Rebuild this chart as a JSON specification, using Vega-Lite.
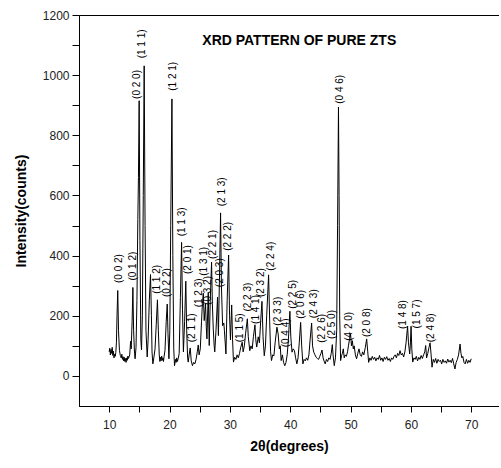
{
  "$schema": "https://vega.github.io/schema/vega-lite/v6.json",
  "width": 420,
  "height": 391,
  "autosize": {"type": "pad"},
  "padding": {"left": 14, "top": 9, "right": 0, "bottom": 5},
  "background": "white",
  "view": {"stroke": "black", "strokeWidth": 1},
  "config": {
    "font": "Liberation Sans",
    "axis": {"grid": false, "domain": true, "ticks": true, "domainColor": "black", "domainWidth": 1, "tickColor": "black", "tickWidth": 1, "labelColor": "#222", "titleColor": "black", "labelFont": "Liberation Sans", "titleFont": "Liberation Sans"}
  },
  "datasets": {
    "pattern": [
      {"t":10.0,"i":80},{"t":10.1,"i":92},{"t":10.2,"i":70},{"t":10.3,"i":88},{"t":10.4,"i":75},{"t":10.5,"i":95},{"t":10.6,"i":68},{"t":10.7,"i":82},{"t":10.8,"i":60},{"t":10.9,"i":72},{"t":11.0,"i":65},{"t":11.1,"i":78},{"t":11.2,"i":110},{"t":11.3,"i":200},{"t":11.42,"i":284},{"t":11.55,"i":150},{"t":11.7,"i":85},{"t":11.85,"i":68},
      {"t":12.0,"i":60},{"t":12.1,"i":72},{"t":12.2,"i":55},{"t":12.3,"i":64},{"t":12.4,"i":50},{"t":12.5,"i":62},{"t":12.6,"i":48},{"t":12.7,"i":58},{"t":12.8,"i":45},{"t":12.9,"i":60},{"t":13.0,"i":52},{"t":13.1,"i":66},{"t":13.2,"i":58},{"t":13.4,"i":70},{"t":13.55,"i":115},{"t":13.65,"i":90},{"t":13.8,"i":180},{"t":13.93,"i":294},{"t":14.05,"i":150},{"t":14.2,"i":75},{"t":14.3,"i":57},{"t":14.45,"i":95},{"t":14.6,"i":250},{"t":14.75,"i":520},{"t":14.85,"i":660},{"t":14.97,"i":915},{"t":15.1,"i":450},{"t":15.25,"i":120},{"t":15.36,"i":87},{"t":15.5,"i":200},{"t":15.65,"i":600},{"t":15.8,"i":1031},{"t":15.95,"i":500},
      {"t":16.1,"i":150},{"t":16.3,"i":63},{"t":16.45,"i":120},{"t":16.65,"i":250},{"t":16.85,"i":337},{"t":17.0,"i":200},{"t":17.1,"i":80},{"t":17.24,"i":40},{"t":17.4,"i":60},{"t":17.6,"i":90},{"t":17.8,"i":170},{"t":18.0,"i":253},{"t":18.15,"i":150},{"t":18.3,"i":70},{"t":18.4,"i":48},{"t":18.5,"i":62},{"t":18.6,"i":50},{"t":18.7,"i":66},{"t":18.8,"i":52},{"t":18.9,"i":60},{"t":19.0,"i":48},{"t":19.1,"i":65},{"t":19.25,"i":85},{"t":19.45,"i":180},{"t":19.62,"i":239},{"t":19.75,"i":140},{"t":19.9,"i":57},
      {"t":20.05,"i":150},{"t":20.2,"i":500},{"t":20.4,"i":921},{"t":20.55,"i":400},{"t":20.7,"i":90},{"t":20.83,"i":34},{"t":21.0,"i":55},{"t":21.1,"i":45},{"t":21.2,"i":60},{"t":21.3,"i":48},{"t":21.45,"i":58},{"t":21.6,"i":75},{"t":21.8,"i":260},{"t":22.0,"i":444},{"t":22.15,"i":220},{"t":22.3,"i":80},{"t":22.5,"i":180},{"t":22.7,"i":315},{"t":22.85,"i":150},{"t":23.0,"i":60},{"t":23.1,"i":46},{"t":23.25,"i":70},{"t":23.43,"i":93},{"t":23.6,"i":50},{"t":23.8,"i":34},
      {"t":24.0,"i":45},{"t":24.2,"i":40},{"t":24.4,"i":55},{"t":24.6,"i":80},{"t":24.76,"i":103},{"t":24.9,"i":70},{"t":25.1,"i":90},{"t":25.3,"i":180},{"t":25.45,"i":240},{"t":25.6,"i":275},{"t":25.75,"i":184},{"t":25.97,"i":239},{"t":26.1,"i":160},{"t":26.2,"i":123},{"t":26.42,"i":278},{"t":26.58,"i":101},{"t":26.75,"i":250},{"t":26.97,"i":378},{"t":27.1,"i":240},{"t":27.25,"i":156},{"t":27.4,"i":100},{"t":27.5,"i":80},{"t":27.7,"i":150},{"t":27.96,"i":262},{"t":28.1,"i":134},{"t":28.3,"i":350},{"t":28.46,"i":542},{"t":28.6,"i":300},{"t":28.8,"i":167},{"t":29.0,"i":176},{"t":29.1,"i":150},{"t":29.35,"i":73},{"t":29.55,"i":250},{"t":29.79,"i":402},{"t":29.95,"i":200},
      {"t":30.1,"i":120},{"t":30.3,"i":236},{"t":30.45,"i":120},{"t":30.6,"i":46},{"t":30.8,"i":62},{"t":31.0,"i":55},{"t":31.2,"i":70},{"t":31.4,"i":60},{"t":31.6,"i":75},{"t":31.8,"i":95},{"t":32.05,"i":112},{"t":32.2,"i":80},{"t":32.4,"i":100},{"t":32.6,"i":140},{"t":32.9,"i":190},{"t":33.05,"i":130},{"t":33.3,"i":84},{"t":33.5,"i":100},{"t":33.7,"i":90},{"t":33.9,"i":130},{"t":34.16,"i":170},{"t":34.3,"i":120},{"t":34.45,"i":96},{"t":34.7,"i":130},{"t":34.9,"i":110},{"t":35.1,"i":180},{"t":35.32,"i":248},{"t":35.5,"i":130},{"t":35.7,"i":67},{"t":35.9,"i":100},{"t":36.1,"i":200},{"t":36.42,"i":336},{"t":36.6,"i":180},{"t":36.75,"i":80},{"t":36.9,"i":51},{"t":37.1,"i":70},{"t":37.3,"i":67},{"t":37.5,"i":110},{"t":37.8,"i":162},{"t":38.0,"i":140},{"t":38.2,"i":90},{"t":38.35,"i":100},{"t":38.5,"i":51},{"t":38.7,"i":70},{"t":38.9,"i":45},{"t":39.1,"i":34},{"t":39.3,"i":45},{"t":39.5,"i":70},{"t":39.7,"i":120},{"t":39.95,"i":215},
      {"t":40.1,"i":130},{"t":40.3,"i":79},{"t":40.5,"i":90},{"t":40.7,"i":84},{"t":40.9,"i":60},{"t":41.1,"i":40},{"t":41.3,"i":60},{"t":41.5,"i":110},{"t":41.73,"i":178},{"t":41.9,"i":100},{"t":42.1,"i":40},{"t":42.3,"i":55},{"t":42.5,"i":50},{"t":42.7,"i":60},{"t":42.9,"i":52},{"t":43.1,"i":70},{"t":43.3,"i":120},{"t":43.55,"i":176},{"t":43.7,"i":100},{"t":43.9,"i":79},{"t":44.1,"i":70},{"t":44.3,"i":62},{"t":44.5,"i":58},{"t":44.7,"i":55},{"t":44.9,"i":65},{"t":45.1,"i":75},{"t":45.27,"i":86},{"t":45.45,"i":60},{"t":45.6,"i":50},{"t":45.8,"i":40},{"t":46.0,"i":55},{"t":46.2,"i":48},{"t":46.4,"i":60},{"t":46.6,"i":55},{"t":46.8,"i":75},{"t":46.98,"i":104},{"t":47.1,"i":70},{"t":47.3,"i":34},{"t":47.5,"i":60},{"t":47.7,"i":150},{"t":47.85,"i":500},{"t":48.0,"i":894},{"t":48.1,"i":600},{"t":48.2,"i":200},{"t":48.35,"i":51},{"t":48.5,"i":67},{"t":48.65,"i":75},{"t":48.8,"i":90},{"t":48.95,"i":60},{"t":49.1,"i":70},{"t":49.3,"i":65},{"t":49.5,"i":80},{"t":49.65,"i":100},{"t":49.85,"i":125},
      {"t":50.0,"i":140},{"t":50.15,"i":100},{"t":50.3,"i":117},{"t":50.45,"i":90},{"t":50.6,"i":100},{"t":50.8,"i":70},{"t":51.0,"i":57},{"t":51.2,"i":75},{"t":51.4,"i":90},{"t":51.6,"i":70},{"t":51.8,"i":65},{"t":52.0,"i":80},{"t":52.2,"i":70},{"t":52.45,"i":95},{"t":52.67,"i":123},{"t":52.85,"i":80},{"t":53.0,"i":45},{"t":53.2,"i":60},{"t":53.4,"i":52},{"t":53.6,"i":65},{"t":53.8,"i":55},{"t":54.0,"i":62},{"t":54.2,"i":50},{"t":54.4,"i":60},{"t":54.6,"i":55},{"t":54.8,"i":68},{"t":55.0,"i":52},{"t":55.2,"i":60},{"t":55.4,"i":48},{"t":55.6,"i":62},{"t":55.8,"i":55},{"t":56.0,"i":64},{"t":56.2,"i":52},{"t":56.4,"i":58},{"t":56.6,"i":48},{"t":56.8,"i":60},{"t":57.0,"i":55},{"t":57.2,"i":65},{"t":57.4,"i":70},{"t":57.6,"i":60},{"t":57.8,"i":75},{"t":58.0,"i":68},{"t":58.2,"i":84},{"t":58.4,"i":70},{"t":58.6,"i":75},{"t":58.8,"i":63},{"t":59.0,"i":80},{"t":59.2,"i":110},{"t":59.45,"i":165},{"t":59.6,"i":110},{"t":59.8,"i":73},{"t":59.9,"i":100},
      {"t":60.03,"i":165},{"t":60.15,"i":90},{"t":60.3,"i":46},{"t":60.5,"i":60},{"t":60.7,"i":55},{"t":60.9,"i":65},{"t":61.1,"i":50},{"t":61.3,"i":62},{"t":61.5,"i":55},{"t":61.7,"i":68},{"t":61.9,"i":58},{"t":62.1,"i":70},{"t":62.3,"i":80},{"t":62.45,"i":101},{"t":62.6,"i":60},{"t":62.8,"i":75},{"t":63.0,"i":95},{"t":63.18,"i":110},{"t":63.35,"i":70},{"t":63.5,"i":29},{"t":63.7,"i":55},{"t":63.9,"i":45},{"t":64.1,"i":58},{"t":64.3,"i":42},{"t":64.5,"i":55},{"t":64.7,"i":48},{"t":64.9,"i":52},{"t":65.1,"i":40},{"t":65.3,"i":55},{"t":65.5,"i":45},{"t":65.7,"i":50},{"t":65.9,"i":42},{"t":66.1,"i":56},{"t":66.3,"i":46},{"t":66.5,"i":52},{"t":66.7,"i":44},{"t":66.9,"i":58},{"t":67.1,"i":40},{"t":67.3,"i":23},{"t":67.5,"i":45},{"t":67.7,"i":55},{"t":67.9,"i":70},{"t":68.15,"i":106},{"t":68.3,"i":75},{"t":68.45,"i":60},{"t":68.6,"i":65},{"t":68.8,"i":45},{"t":69.0,"i":40},{"t":69.2,"i":55},{"t":69.4,"i":42},{"t":69.6,"i":52},{"t":69.8,"i":45},{"t":70.0,"i":57}
    ],
    "peaks": [
      {"hkl":"(0 0 2)","t":11.55,"i":309},
      {"hkl":"(0 1 2)","t":13.98,"i":317},
      {"hkl":"(0 2 0)","t":14.53,"i":921},
      {"hkl":"(1 1 1)","t":15.52,"i":1056},
      {"hkl":"(1 1 2)","t":18.0,"i":273},
      {"hkl":"(0 2 2)","t":19.5,"i":262},
      {"hkl":"(1 2 1)","t":20.6,"i":948},
      {"hkl":"(1 1 3)","t":22.1,"i":464},
      {"hkl":"(2 0 1)","t":23.1,"i":339},
      {"hkl":"(2 1 1)","t":23.76,"i":112},
      {"hkl":"(1 2 3)","t":24.87,"i":228},
      {"hkl":"(1 3 1)","t":25.75,"i":333},
      {"hkl":"(0 3 2)","t":26.35,"i":236},
      {"hkl":"(2 2 1)","t":27.13,"i":389},
      {"hkl":"(2 0 3)","t":28.3,"i":295},
      {"hkl":"(2 1 3)","t":28.74,"i":564},
      {"hkl":"(2 2 2)","t":29.73,"i":416},
      {"hkl":"(1 1 5)","t":31.67,"i":112},
      {"hkl":"(2 2 3)","t":32.94,"i":214},
      {"hkl":"(1 4 1)","t":34.27,"i":173},
      {"hkl":"(2 3 2)","t":35.1,"i":262},
      {"hkl":"(2 2 4)","t":36.8,"i":350},
      {"hkl":"(2 3 3)","t":37.9,"i":167},
      {"hkl":"(0 4 4)","t":39.3,"i":95},
      {"hkl":"(2 2 5)","t":40.4,"i":223},
      {"hkl":"(2 0 6)","t":41.84,"i":190},
      {"hkl":"(2 4 3)","t":44.0,"i":192},
      {"hkl":"(2 2 6)","t":45.32,"i":110},
      {"hkl":"(2 5 0)","t":47.0,"i":123},
      {"hkl":"(0 4 6)","t":48.2,"i":905},
      {"hkl":"(4 2 0)","t":49.8,"i":117},
      {"hkl":"(2 0 8)","t":52.67,"i":129},
      {"hkl":"(1 4 8)","t":58.65,"i":156},
      {"hkl":"(1 5 7)","t":61.0,"i":158},
      {"hkl":"(2 4 8)","t":63.33,"i":112}
    ],
    "heading": [{"label":"XRD PATTERN OF PURE ZTS","t":41.5,"i":1113}]
  },
  "encoding": {
    "x": {"field": "t", "type": "quantitative", "scale": {"domain": [5, 74.6], "nice": false, "zero": false},
      "axis": {"values": [10,15,20,25,30,35,40,45,50,55,60,65,70], "labelExpr": "datum.value % 10 === 0 ? datum.label : ''", "tickSize": 6,
        "labelFontSize": 12, "labelPadding": 7, "title": "2θ(degrees)", "titleFontSize": 14, "titleFontWeight": "bold", "titlePadding": 9}},
    "y": {"field": "i", "type": "quantitative", "scale": {"domain": [-100, 1200], "nice": false, "zero": false},
      "axis": {"values": [0,100,200,300,400,500,600,700,800,900,1000,1100,1200], "labelExpr": "datum.value % 200 === 0 ? format(datum.value, 'd') : ''", "tickSize": 7, "labelFontSize": 12, "labelPadding": 3, "title": "Intensity(counts)", "titleFontSize": 14, "titleFontWeight": "bold", "titlePadding": 14}}
  },
  "layer": [
    {
      "data": {"name": "pattern"},
      "mark": {"type": "line", "color": "black", "strokeWidth": 1}
    },
    {
      "data": {"name": "peaks"},
      "mark": {"type": "text", "angle": 270, "align": "left", "baseline": "middle", "fontSize": 10, "color": "black"},
      "encoding": {"text": {"field": "hkl"}}
    },
    {
      "data": {"name": "heading"},
      "mark": {"type": "text", "align": "center", "baseline": "middle", "fontSize": 14, "fontWeight": "bold", "color": "black"},
      "encoding": {"text": {"field": "label"}}
    }
  ]
}
